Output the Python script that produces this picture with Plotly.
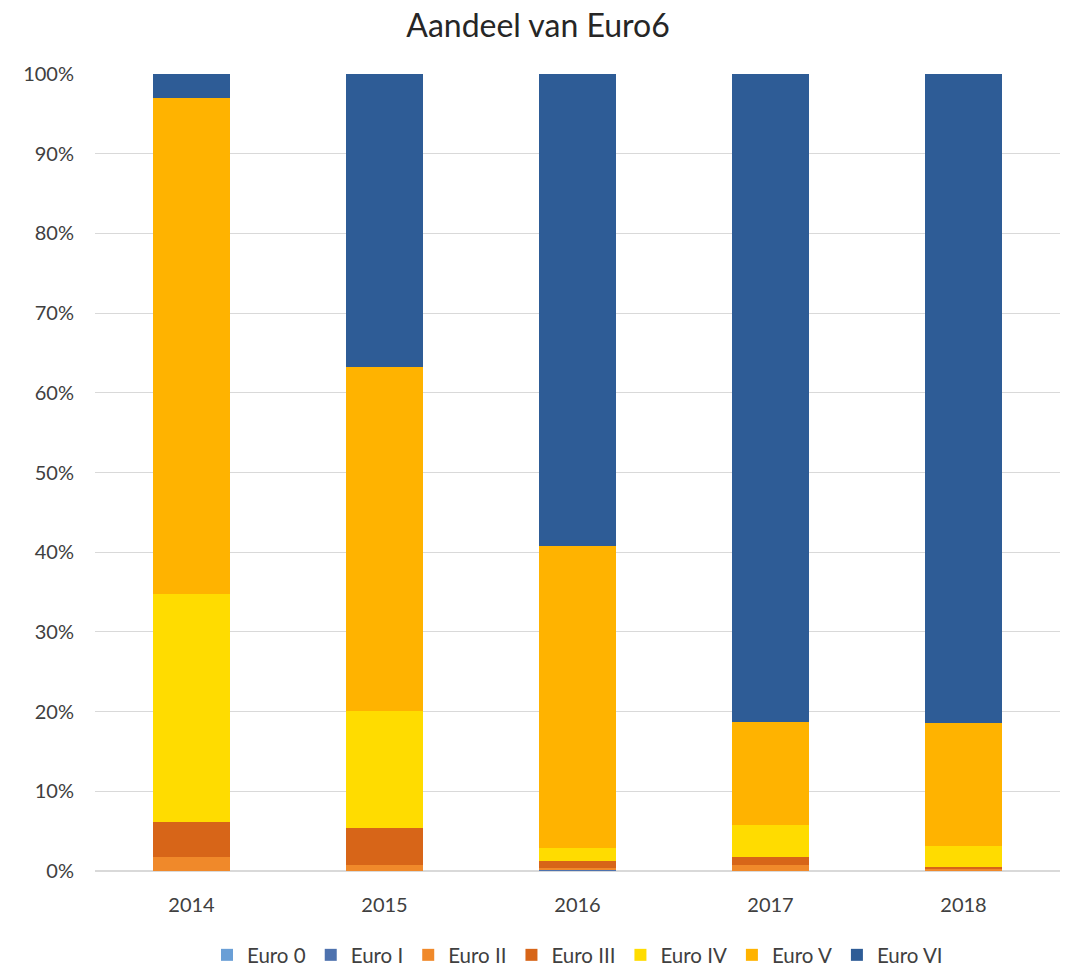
import plotly.graph_objects as go

years = ['2014', '2015', '2016', '2017', '2018']
classes = ['Euro 0', 'Euro I', 'Euro II', 'Euro III', 'Euro IV', 'Euro V', 'Euro VI']

# share per emission class (%), per year
euro_0 = [0.0, 0.0, 0.0, 0.0, 0.0]
euro_1 = [0.0, 0.0, 0.25, 0.0, 0.0]
euro_2 = [1.8, 0.8, 0.1, 0.75, 0.2]
euro_3 = [4.4, 4.6, 0.95, 1.0, 0.3]
euro_4 = [28.6, 14.7, 1.6, 4.05, 2.6]
euro_5 = [62.2, 43.1, 37.9, 12.9, 15.5]
euro_6 = [3.0, 36.8, 59.2, 81.3, 81.4]

series = [euro_0, euro_1, euro_2, euro_3, euro_4, euro_5, euro_6]
colors = ['#6a9fd6', '#4e72ae', '#f0892a', '#d76518', '#ffdc00', '#ffb300', '#2e5c96']

fig = go.Figure()
for name, vals, col in zip(classes, series, colors):
    fig.add_trace(go.Bar(x=years, y=vals, name=name, marker_color=col,
                         marker_line_width=0))

# page has an 8px body margin, so figure is a bit smaller than the window
fig.update_layout(
    barmode='stack',
    bargap=0.6,
    width=1060, height=959,
    plot_bgcolor='white', paper_bgcolor='white',
    font=dict(family='Lato, Noto Sans, sans-serif', size=20, color='#404040'),
    title=dict(text='Aandeel van Euro6', x=0.5, xanchor='center',
               y=0.981, yanchor='middle',
               font=dict(size=32, color='#262626')),
    margin=dict(l=87, r=8, t=66, b=96),
    legend=dict(orientation='h', x=0.5, xanchor='center',
                yref='container', y=0.0125, yanchor='middle',
                font=dict(size=20.5), traceorder='normal', itemwidth=30),
)
fig.update_yaxes(range=[0, 100], dtick=10, ticksuffix='%', gridcolor='#d9d9d9',
                 gridwidth=1, zeroline=True, zerolinecolor='#d9d9d9', ticks='',
                 ticklen=0, showline=False, ticklabelstandoff=20)
fig.update_xaxes(showline=False, ticks='', ticklabelstandoff=20)

fig.write_html("out.html")
